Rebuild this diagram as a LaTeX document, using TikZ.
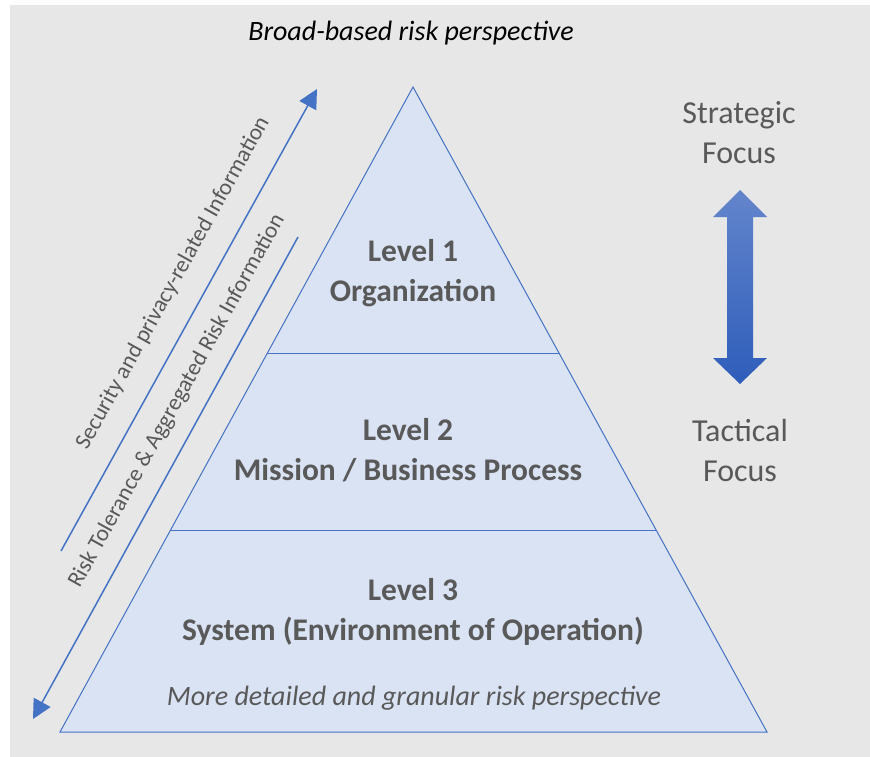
\documentclass[tikz,border=0pt]{standalone}
\usepackage{fontspec}
\setmainfont{Carlito}
\usetikzlibrary{arrows.meta,calc}
\definecolor{bgGray}{HTML}{E7E7E7}
\definecolor{pyrFill}{HTML}{DAE3F3}
\definecolor{pyrLine}{HTML}{4472C4}
\definecolor{txtGray}{HTML}{595959}
\definecolor{focusTop}{HTML}{6385CC}
\definecolor{focusBot}{HTML}{2E5DBA}
\tikzset{
	level/.style={align=center,font=\fontsize{31.5}{40}\selectfont\bfseries,text=txtGray},
	focus/.style={align=center,font=\fontsize{32}{40}\selectfont,text=txtGray},
	diag/.style={rotate=61,font=\fontsize{23}{27}\selectfont,text=txtGray},
	info/.style={draw=pyrLine,line width=1.5pt,-{Triangle[length=19pt,width=19pt]}},
	persp/.style={font=\fontsize{28}{32}\selectfont\itshape}
}
\begin{document}
\begin{tikzpicture}[x=1pt,y=-1pt]
	\fill[white] (0,0) rectangle (870,757);
	\fill[bgGray] (10,5) rectangle (870,757);
	\useasboundingbox (0,0) rectangle (870,757);
	% pyramid
	\coordinate (apex) at (413,87);
	\coordinate (bl) at (60,732);
	\coordinate (br) at (767,732);
	\coordinate (cut1l) at ($(apex)!0.4135!(bl)$);
	\coordinate (cut1r) at ($(apex)!0.4135!(br)$);
	\coordinate (cut2l) at ($(apex)!0.688!(bl)$);
	\coordinate (cut2r) at ($(apex)!0.688!(br)$);
	\filldraw[fill=pyrFill,draw=pyrLine,line width=1pt] (apex) -- (bl) -- (br) -- cycle;
	\draw[pyrLine,line width=1pt] (cut1l) -- (cut1r);
	\draw[pyrLine,line width=1pt] (cut2l) -- (cut2r);
	\node[persp] (broad) at (411,33) {Broad-based risk perspective};
	\node[level] (lvl1) at (413,273) {Level 1\\Organization};
	\node[level] (lvl2) at (408,450) {Level 2\\Mission / Business Process};
	\node[level] (lvl3) at (413,612) {Level 3\\System (Environment of Operation)};
	\node[persp,text=txtGray] (granular) at (414,698) {More detailed and granular risk perspective};
	% information flows
	\coordinate (upS) at (61,551);
	\coordinate (upE) at (317,89);
	\coordinate (dnS) at (298,237);
	\coordinate (dnE) at (33,719);
	\draw[info] (upS) -- (upE);
	\draw[info] (dnS) -- (dnE);
	\node[diag] (secinfo) at (173,283) {Security and privacy-related Information};
	\node[diag] (riskinfo) at (177,401) {Risk Tolerance \& Aggregated Risk Information};
	% focus
	\node[focus] (strat) at (739,133) {Strategic\\Focus};
	\node[focus] (tact) at (740,451) {Tactical\\Focus};
	\shade[top color=focusTop,bottom color=focusBot] (740,190) -- (767,217) -- (753,217) -- (753,358) -- (767,358) -- (740,384) -- (713,358) -- (727,358) -- (727,217) -- (713,217) -- cycle;
\end{tikzpicture}
\end{document}
